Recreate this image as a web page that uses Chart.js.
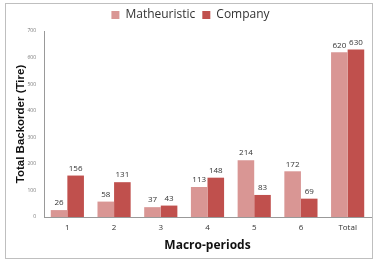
<!DOCTYPE html>
<html>
<head>
<meta charset="utf-8">
<script src="https://cdn.jsdelivr.net/npm/chart.js@4"></script>
<style>
  html, body { margin: 0; padding: 0; background: #fff; }
  #wrap { position: absolute; left: 0; top: 0; width: 378px; height: 262px; }
  #frame { position: absolute; left: 5px; top: 3px; width: 366px; height: 254px; border: 1px solid #bfbfbf; }
</style>
</head>
<body>
<div id="wrap">
  <div id="frame"></div>
  <canvas id="chart" width="378" height="262"></canvas>
</div>
<script>
const periods = ['1', '2', '3', '4', '5', '6', 'Total'];
const matheuristic = [26, 58, 37, 113, 214, 172, 620];
const company = [156, 131, 43, 148, 83, 69, 630];
const yTicks = [0, 100, 200, 300, 400, 500, 600, 700];

// draws the numbers on top of each bar
const valueLabels = {
    id: 'valueLabels',
    afterDatasetsDraw(chart) {
        const ctx = chart.ctx;
        ctx.save();
        ctx.font = '8px "Open Sans", sans-serif';
        ctx.fillStyle = '#333';
        ctx.textAlign = 'center';
        ctx.textBaseline = 'bottom';
        chart.data.datasets.forEach((ds, i) => {
            chart.getDatasetMeta(i).data.forEach((bar, j) => {
                ctx.fillText(ds.data[j], bar.x, bar.y - 3);
            });
        });
        ctx.restore();
    }
};

new Chart(document.getElementById('chart'), {
    type: 'bar',
    data: {
        labels: periods,
        datasets: [
            { label: 'Matheuristic', data: matheuristic, backgroundColor: '#d99694' },
            { label: 'Company', data: company, backgroundColor: '#c0504d' }
        ]
    },
    options: {
        responsive: false,
        animation: false,
        layout: { padding: { left: 10, right: 7, top: 2, bottom: 7 } },
        datasets: { bar: { categoryPercentage: 0.71, barPercentage: 1.0 } },
        plugins: {
            legend: {
                position: 'top',
                labels: {
                    usePointStyle: true,
                    pointStyle: 'rect',
                    boxWidth: 8,
                    boxHeight: 8,
                    padding: 7,
                    color: '#333',
                    font: { family: '"Open Sans", sans-serif', size: 12 }
                }
            },
            tooltip: { enabled: false }
        },
        scales: {
            x: {
                grid: { display: false, drawTicks: false },
                border: { color: '#999' },
                ticks: { color: '#333', font: { family: '"Open Sans", sans-serif', size: 8 }, padding: 6 },
                title: { display: true, text: 'Macro-periods', color: '#111', font: { family: '"Open Sans", sans-serif', size: 12, weight: 'bold' }, padding: { top: 0, bottom: 2 } }
            },
            y: {
                min: 0,
                max: 700,
                afterBuildTicks: axis => { axis.ticks = yTicks.map(v => ({ value: v })); },
                afterFit: axis => { axis.width = 34; },
                grid: { display: false, drawTicks: false },
                border: { color: '#999' },
                ticks: { color: '#777', font: { family: '"Open Sans", sans-serif', size: 5 }, padding: 8 },
                title: { display: true, text: 'Total Backorder (Tire)', color: '#111', font: { family: 'Arial, "Liberation Sans", sans-serif', size: 11.5, weight: 'bold' }, padding: { top: 4, bottom: 0 } }
            }
        }
    },
    plugins: [valueLabels]
});
</script>
</body>
</html>
